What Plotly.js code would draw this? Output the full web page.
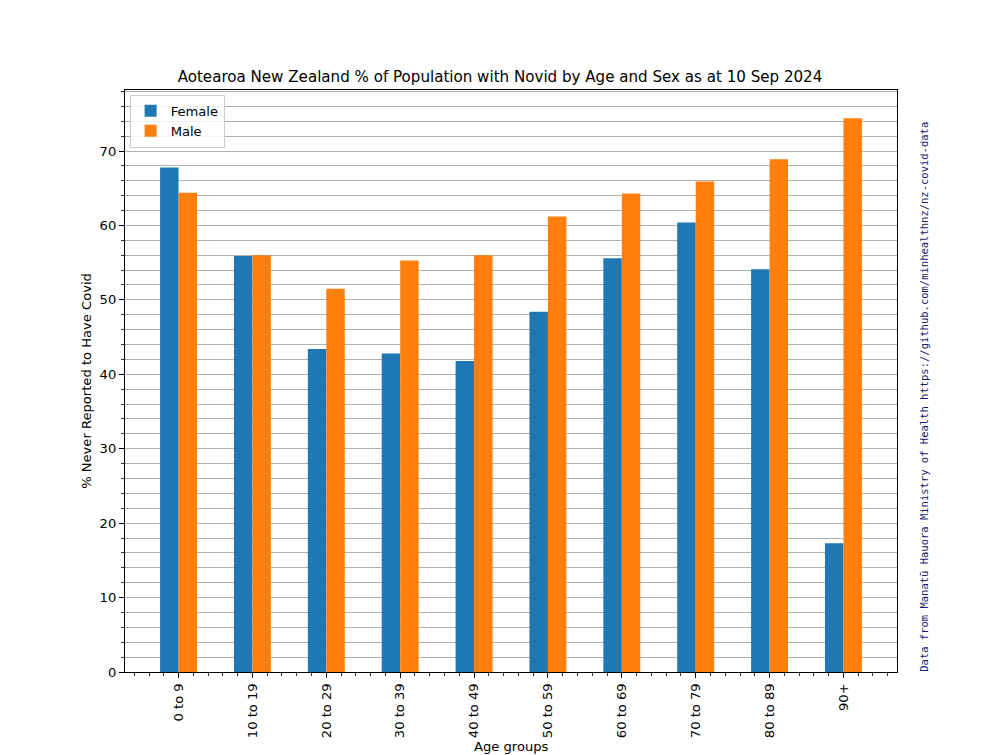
<!DOCTYPE html>
<html>
<head>
<meta charset="utf-8">
<script src="https://cdn.plot.ly/plotly-3.0.1.min.js"></script>
<style>html,body{margin:0;padding:0;background:#fff;}#chart{width:1000px;height:755px;}</style>
</head>
<body>
<div id="chart"></div>
<script>
const ageGroups = ["0 to 9","10 to 19","20 to 29","30 to 39","40 to 49","50 to 59","60 to 69","70 to 79","80 to 89","90+"];
const female = [67.8, 55.9, 43.4, 42.8, 41.8, 48.4, 55.6, 60.4, 54.1, 17.3];
const male = [64.4, 56.0, 51.5, 55.3, 56.0, 61.2, 64.3, 65.9, 68.9, 74.4];
const yTicks = [0, 10, 20, 30, 40, 50, 60, 70];

const idx = ageGroups.map((_, i) => i);
const font = "DejaVu Sans, sans-serif";
const fs = 13.1;

const traces = [
  {type: "bar", name: "Female", x: idx, y: female, width: 0.25, offset: -0.25,
   marker: {color: "#1f77b4", line: {width: 0}}},
  {type: "bar", name: "Male", x: idx, y: male, width: 0.25, offset: 0,
   marker: {color: "#ff7f0e", line: {width: 0}}}
];

const layout = {
  width: 1000, height: 755,
  margin: {l: 125, r: 103, t: 90, b: 83},
  paper_bgcolor: "#fff", plot_bgcolor: "#fff",
  barmode: "overlay",
  font: {family: font, size: fs, color: "#000"},
  title: {text: "Aotearoa New Zealand % of Population with Novid by Age and Sex as at 10 Sep 2024",
          font: {family: font, size: 15.1, color: "#000"}, x: 0.5, xanchor: "center", y: 0.899, yanchor: "middle"},
  xaxis: {
    range: [-0.725, 9.725], tickmode: "array", tickvals: idx, ticktext: ageGroups,
    tickangle: -90, ticks: "outside", ticklen: 5, tickwidth: 1, tickcolor: "#000",
    showline: true, linecolor: "#000", linewidth: 1.1, mirror: true, showgrid: false, zeroline: false,
    minor: {tick0: 0, dtick: 0.2, ticks: "outside", ticklen: 3, tickwidth: 0.8, tickcolor: "#000", showgrid: false}
  },
  yaxis: {
    range: [0, 78.2], tickmode: "array", tickvals: yTicks,
    ticks: "outside", ticklen: 5, tickwidth: 1, tickcolor: "#000",
    showline: true, linecolor: "#000", linewidth: 1.1, mirror: true, zeroline: false,
    showgrid: true, gridcolor: "#b0b0b0", gridwidth: 1,
    minor: {tick0: 0, dtick: 2, ticks: "outside", ticklen: 3, tickwidth: 0.8, tickcolor: "#000",
            showgrid: true, gridcolor: "#b0b0b0", gridwidth: 1},
    title: {text: "% Never Reported to Have Covid", font: {family: font, size: fs}, standoff: 5}
  },
  legend: {x: 0.006, y: 0.992, xanchor: "left", yanchor: "top", bgcolor: "rgba(255,255,255,0.8)",
           bordercolor: "#cccccc", borderwidth: 1, font: {family: font, size: fs}, tracegroupgap: 0,
           itemwidth: 30},
  showlegend: true,
  annotations: [{
    text: "Data from Manatū Hauora Ministry of Health https://github.com/minhealthnz/nz-covid-data",
    xref: "paper", yref: "paper", x: 1.035, y: -0.003, xanchor: "center", yanchor: "bottom",
    textangle: -90, showarrow: false,
    font: {family: "DejaVu Sans Mono, monospace", size: 10.5, color: "#191970"}
  }, {
    text: "Age groups", xref: "paper", yref: "paper", x: 0.5, y: -0.128, xanchor: "center", yanchor: "middle",
    showarrow: false, font: {family: font, size: fs, color: "#000"}
  }]
};

Plotly.newPlot("chart", traces, layout, {displayModeBar: false, staticPlot: true});
</script>
</body>
</html>
